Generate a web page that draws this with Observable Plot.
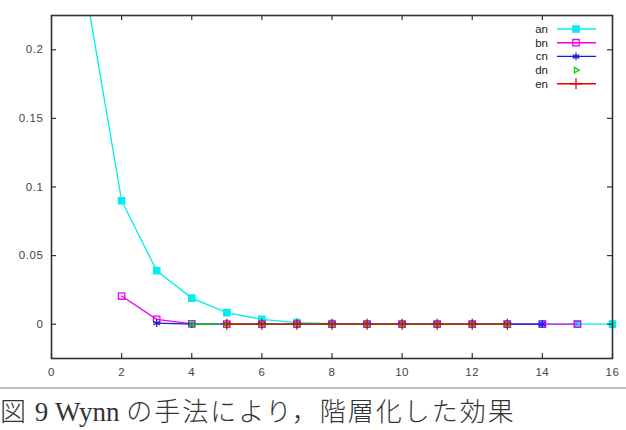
<!DOCTYPE html>
<html><head><meta charset="utf-8">
<script src="https://cdn.jsdelivr.net/npm/d3@7"></script>
<script src="https://cdn.jsdelivr.net/npm/@observablehq/plot@0.6"></script>
<style>
body{margin:0;background:#fff;}
#wrap{position:relative;width:626px;height:430px;overflow:hidden;}
#rule{position:absolute;left:0;top:387px;width:626px;height:2px;background:#bdbdbd;}
#cap{position:absolute;left:0px;top:396px;font-family:"Liberation Serif","Noto Sans CJK JP",serif;font-size:26px;line-height:32px;color:#333;white-space:nowrap;}
#cap .lat{font-size:27px;}
#cap .jp, #cap .jp0{letter-spacing:2px;font-weight:300;}
#legend{position:absolute;left:0;top:0;pointer-events:none;}
</style>
</head><body><div id="wrap"></div>
<script>
const seriesNames = ["an", "bn", "cn", "dn", "en"];
const seriesColors = ["#00eeee", "#ee00ee", "#1a1ae0", "#00dd00", "#ee0000"];
const anX = [1, 2, 3, 4, 5, 6, 7, 8, 9, 10, 11, 12, 13, 14, 15, 16];
const anY = [0.24, 0.09, 0.039, 0.019, 0.0085, 0.0035, 0.0012, 0.0004, 0.0001, 0, 0, 0, 0, 0, 0, 0];
const bnX = [2, 3, 4, 5, 6, 7, 8, 9, 10, 11, 12, 13, 14, 15];
const bnY = [0.0205, 0.0035, 0.0003, 0, 0, 0, 0, 0, 0, 0, 0, 0, 0, 0];
const cnX = [3, 4, 5, 6, 7, 8, 9, 10, 11, 12, 13, 14];
const cnY = [0.0008, 0, 0, 0, 0, 0, 0, 0, 0, 0, 0, 0];
const dnX = [4, 5, 6, 7, 8, 9, 10, 11, 12, 13];
const dnY = [0, 0, 0, 0, 0, 0, 0, 0, 0, 0];
const enX = [5, 6, 7, 8, 9, 10, 11, 12, 13];
const enY = [0, 0, 0, 0, 0, 0, 0, 0, 0];
const xTicks = [0, 2, 4, 6, 8, 10, 12, 14, 16];
const yTicks = [0, 0.05, 0.1, 0.15, 0.2];
const yTickLabels = ["0", "0.05", "0.1", "0.15", "0.2"];
const captionParts = ["図", " 9 Wynn ", "の手法により，階層化した効果"];

const xDomain = [0, 16];
const yDomain = [-0.025, 0.225];

const W = 626, H = 385, mt = 15, mb = 27, ml = 51, mr = 14;
const innerH = H - mt - mb, innerW = W - ml - mr;

const toRows = (xs, ys) => xs.map((x, i) => ({x, y: ys[i]}));
const series = [toRows(anX, anY), toRows(bnX, bnY), toRows(cnX, cnY), toRows(dnX, dnY), toRows(enX, enY)];
const inRange = d => d.y <= yDomain[1] && d.y >= yDomain[0];

const symbols = [
  {symbol: "square", fill: true, r: 3.6},
  {symbol: "square", fill: false, r: 3.6},
  {symbol: "asterisk", fill: false, r: 3.6},
  {symbol: "triangle", fill: false, r: 2},
  {symbol: "plus", fill: false, r: 3.6}
];

const marks = [];
series.forEach((rows, i) => {
  marks.push(Plot.line(rows, {x: "x", y: "y", stroke: seriesColors[i], strokeWidth: 1.3, clip: true}));
  const s = symbols[i];
  marks.push(Plot.dot(rows.filter(inRange), {
    x: "x", y: "y", symbol: () => s.symbol, r: s.r,
    stroke: seriesColors[i], strokeWidth: 1.3,
    fill: s.fill ? seriesColors[i] : "none"
  }));
});

const tickStyle = {stroke: "#333", strokeWidth: 1.2};
marks.push(
  Plot.tickX(xTicks, {x: d => d, insetTop: innerH - 5, ...tickStyle}),
  Plot.tickX(xTicks, {x: d => d, insetBottom: innerH - 5, ...tickStyle}),
  Plot.tickY(yTicks, {y: d => d, insetRight: innerW - 5, ...tickStyle}),
  Plot.tickY(yTicks, {y: d => d, insetLeft: innerW - 5, ...tickStyle}),
  Plot.frame({stroke: "#333", strokeWidth: 1.6}),
  Plot.axisX(xTicks, {tickSize: 0, tickPadding: 9, fill: "#444", label: null}),
  Plot.axisY(yTicks, {tickSize: 0, tickPadding: 8, fill: "#444", label: null,
    tickFormat: d => yTickLabels[yTicks.indexOf(d)]})
);

const chart = Plot.plot({
  width: W, height: H,
  marginTop: mt, marginBottom: mb, marginLeft: ml, marginRight: mr,
  style: {fontFamily: "'Liberation Sans', Arial, sans-serif", background: "#fff", letterSpacing: "0.6px"},
  x: {domain: xDomain},
  y: {domain: yDomain},
  marks
});
d3.select(chart).selectAll("text").style("font-size", "11.5px");

const wrap = document.getElementById("wrap");
wrap.appendChild(chart);

// Legend overlay (gnuplot-style key at top right)
const leg = d3.select(wrap).append("svg").attr("id", "legend").attr("width", W).attr("height", 100);
const legRight = 548, lineX1 = 557, lineX2 = 596, mX = 576, y0 = 29, dy = 13.7;
const symMap = {square: d3.symbolSquare, asterisk: d3.symbolAsterisk, triangle: d3.symbolTriangle, plus: d3.symbolPlus};
seriesNames.forEach((name, i) => {
  const y = y0 + i * dy;
  leg.append("text").attr("x", legRight).attr("y", y).attr("dy", "0.35em")
    .attr("text-anchor", "end").attr("font-size", 11.5)
    .attr("font-family", "'Liberation Sans', Arial, sans-serif").attr("fill", "#222").text(name);
  if (i !== 3) {
    leg.append("line").attr("x1", lineX1).attr("x2", lineX2).attr("y1", y).attr("y2", y)
      .attr("stroke", seriesColors[i]).attr("stroke-width", 1.4);
  }
  const s = symbols[i];
  leg.append("path")
    .attr("d", d3.symbol(symMap[s.symbol], Math.PI * s.r * s.r)())
    .attr("transform", `translate(${mX},${y})` + (s.symbol === "triangle" ? " rotate(90)" : ""))
    .attr("stroke", seriesColors[i]).attr("stroke-width", 1.3)
    .attr("fill", s.fill ? seriesColors[i] : "none");
});

const rule = document.createElement("div"); rule.id = "rule"; wrap.appendChild(rule);
const cap = document.createElement("div"); cap.id = "cap";
["jp0", "lat", "jp"].forEach((cls, i) => {
  const sp = document.createElement("span");
  sp.className = cls; sp.textContent = captionParts[i]; cap.appendChild(sp);
});
wrap.appendChild(cap);
</script>
</body></html>
